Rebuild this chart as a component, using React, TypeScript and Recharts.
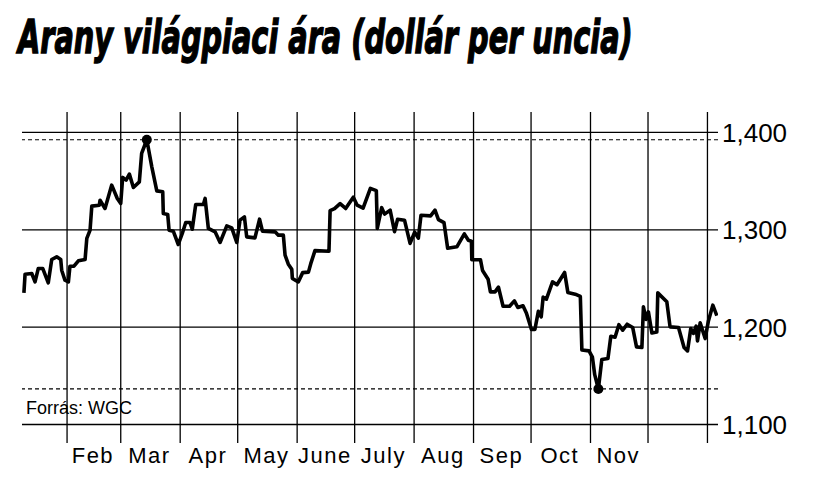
import React from 'react';
import {
  LineChart,
  Line,
  XAxis,
  YAxis,
  ReferenceLine,
  ReferenceDot,
} from 'recharts';

// day of year (2014, Jan 1 = 0) and London gold price
const days = [
  8.5, 9.1, 12.6, 14.3, 16.0, 18.3, 21.2, 23.0, 25.6, 27.7, 28.2, 29.9, 31.7, 32.5, 34.6, 36.9,
  40.4, 41.3, 43.0, 43.9, 47.8, 48.2, 50.8, 54.3, 57.2, 59.0, 60.0, 61.8, 63.5, 65.6, 68.7, 69.9,
  72.6, 75.2, 77.8, 80.9, 81.2, 83.5, 84.2, 86.4, 89.0, 91.1, 92.9, 95.1, 96.3, 98.1, 102.1, 103.0,
  104.7, 108.2, 110.8, 114.3, 116.9, 119.5, 121.2, 123.5, 124.7, 129.0, 131.4, 132.9, 139.5, 141.2,
  143.8, 144.7, 146.4, 148.2, 148.5, 151.6, 153.9, 156.9, 158.1, 160.3, 167.6, 168.2, 170.5, 173.4,
  176.3, 180.3, 182.3, 185.4, 189.2, 192.3, 192.8, 195.1, 196.6, 199.5, 201.8, 203.4, 207.0, 209.9,
  212.3, 214.2, 215.6, 220.6, 222.9, 224.7, 227.6, 229.5, 234.3, 238.2, 240.3, 241.9, 242.1, 246.6,
  247.7, 250.6, 251.8, 254.2, 256.0, 258.4, 261.8, 264.3, 266.1, 268.8, 270.6, 273.2, 275.0, 276.8,
  278.3, 279.3, 281.0, 284.2, 286.5, 290.5, 292.2, 296.0, 298.7, 299.5, 303.2, 305.0, 306.2, 308.1,
  309.9, 313.1, 314.6, 316.8, 318.8, 320.8, 323.1, 326.0, 328.0, 330.8, 331.6, 333.0, 334.2, 336.0,
  338.6, 339.1, 343.8, 345.5, 349.9, 352.8, 354.6, 356.3, 357.7, 359.1, 359.8, 361.2, 363.8, 365.5,
  367.8, 369.9,
];

const prices = [
  1235.2, 1254.4, 1255.1, 1246.5, 1260.3, 1260.3, 1245.5, 1269.5, 1272.2, 1269.5, 1258.5, 1248.2,
  1246.5, 1262.6, 1262.6, 1268.1, 1269.5, 1291.1, 1299.6, 1324.3, 1325.3, 1330.4, 1321.9, 1345.9,
  1332.2, 1327.1, 1353.8, 1351.0, 1357.2, 1343.5, 1349.2, 1378.4, 1392.5, 1364.7, 1340.0, 1339.0,
  1316.8, 1315.8, 1299.6, 1298.6, 1284.9, 1296.2, 1307.5, 1307.5, 1300.6, 1326.0, 1326.0, 1332.2,
  1301.4, 1297.9, 1287.0, 1304.0, 1302.0, 1287.0, 1309.9, 1313.3, 1292.7, 1291.7, 1310.9, 1298.6,
  1297.9, 1294.5, 1294.5, 1273.9, 1264.7, 1259.5, 1250.0, 1246.5, 1256.0, 1256.5, 1265.2, 1278.6,
  1278.0, 1319.7, 1321.7, 1326.8, 1321.9, 1333.5, 1325.3, 1322.2, 1342.5, 1340.2, 1301.4, 1322.7,
  1316.1, 1320.2, 1298.1, 1310.9, 1309.9, 1286.0, 1297.6, 1291.4, 1315.0, 1314.3, 1320.2, 1310.4,
  1307.3, 1281.1, 1282.5, 1295.8, 1289.3, 1288.3, 1269.3, 1269.3, 1258.2, 1249.3, 1236.2, 1236.2,
  1241.1, 1221.5, 1221.5, 1227.0, 1220.2, 1222.0, 1214.3, 1197.6, 1197.6, 1216.2, 1210.5, 1230.8,
  1228.7, 1246.5, 1243.6, 1256.2, 1235.7, 1233.9, 1231.5, 1176.6, 1175.6, 1169.1, 1151.2, 1136.5,
  1166.8, 1167.8, 1190.7, 1189.7, 1202.5, 1196.9, 1203.0, 1199.7, 1179.7, 1179.1, 1220.8, 1207.9,
  1215.7, 1194.1, 1195.1, 1235.2, 1226.0, 1200.3, 1199.7, 1179.1, 1175.6, 1198.6, 1193.5, 1201.0,
  1185.9, 1204.4, 1188.3, 1206.4, 1222.6, 1211.8,
];

const monthStarts = [31, 59, 90, 120, 151, 181, 212, 243, 273, 304, 334, 365];
const monthLabels = ['Feb', 'Mar', 'Apr', 'May', 'June', 'July', 'Aug', 'Sep', 'Oct', 'Nov'];
const priceTicks = [1100, 1200, 1300, 1400];

const data = days.map((d, i) => ({ day: d, price: prices[i] }));
const labelTicks = monthLabels.map((_, i) => (monthStarts[i] + monthStarts[i + 1]) / 2);

const maxPrice = Math.max(...prices);
const minPrice = Math.min(...prices);
const maxPoint = data[prices.indexOf(maxPrice)];
const minPoint = data[prices.indexOf(minPrice)];

const MonthTick = (props: any) => {
  const { x, index } = props;
  return (
    <text
      x={x - 1}
      y={463}
      textAnchor="middle"
      fontFamily="'Liberation Sans', Arial, sans-serif"
      fontSize={22}
      letterSpacing={1.5}
      fill="#000"
    >
      {monthLabels[index]}
    </text>
  );
};

const PriceTick = (props: any) => {
  const { y, payload } = props;
  return (
    <text
      x={722}
      y={y}
      dy="0.36em"
      textAnchor="start"
      fontFamily="'Liberation Sans', Arial, sans-serif"
      fontSize={26}
      fill="#000"
    >
      {payload.value.toLocaleString('en-US')}
    </text>
  );
};

export default function App() {
  return (
    <div style={{ position: 'relative', width: 816, height: 487, background: '#fff' }}>
      <style>{'body{margin:0}'}</style>
      <LineChart
        width={816}
        height={487}
        data={data}
        margin={{ top: 112, right: 0, bottom: 0, left: 22 }}
      >
        <XAxis
          type="number"
          dataKey="day"
          domain={[7.5, 370.5]}
          ticks={labelTicks}
          tick={<MonthTick />}
          axisLine={false}
          tickLine={false}
          height={44}
          allowDataOverflow
          interval={0}
        />
        <YAxis
          orientation="right"
          domain={[1081, 1421]}
          ticks={priceTicks}
          tick={<PriceTick />}
          axisLine={false}
          tickLine={false}
          width={98}
          allowDataOverflow
        />
        {priceTicks.map((v) => (
          <ReferenceLine key={`h${v}`} y={v} stroke="#000" strokeWidth={1.3} />
        ))}
        {monthStarts.map((d) => (
          <ReferenceLine key={`v${d}`} x={d} stroke="#000" strokeWidth={1.3} />
        ))}
        <ReferenceLine y={maxPrice} stroke="#000" strokeWidth={1.2} strokeDasharray="4 3" />
        <ReferenceLine y={minPrice} stroke="#000" strokeWidth={1.2} strokeDasharray="4 3" />
        <Line
          type="linear"
          dataKey="price"
          stroke="#000"
          strokeWidth={3.6}
          strokeLinejoin="round"
          dot={false}
          activeDot={false}
          isAnimationActive={false}
        />
        <ReferenceDot x={maxPoint.day} y={maxPoint.price} r={5} fill="#000" stroke="none" />
        <ReferenceDot x={minPoint.day} y={minPoint.price} r={5} fill="#000" stroke="none" />
      </LineChart>
      <svg
        width={816}
        height={487}
        style={{ position: 'absolute', left: 0, top: 0, pointerEvents: 'none' }}
      >
        <g transform="translate(18,53) scale(0.695,1)">
          <text
            x={0}
            y={0}
            fontFamily="'DejaVu Sans Condensed', 'DejaVu Sans', sans-serif"
            fontSize={46}
            fontWeight={700}
            fontStyle="italic"
            fill="#000"
            stroke="#000"
            strokeWidth={1.4}
          >
            Arany világpiaci ára (dollár per uncia)
          </text>
        </g>
        <text
          x={26}
          y={414}
          fontFamily="'Liberation Sans', Arial, sans-serif"
          fontSize={18}
          fill="#000"
        >
          Forrás: WGC
        </text>
      </svg>
    </div>
  );
}
